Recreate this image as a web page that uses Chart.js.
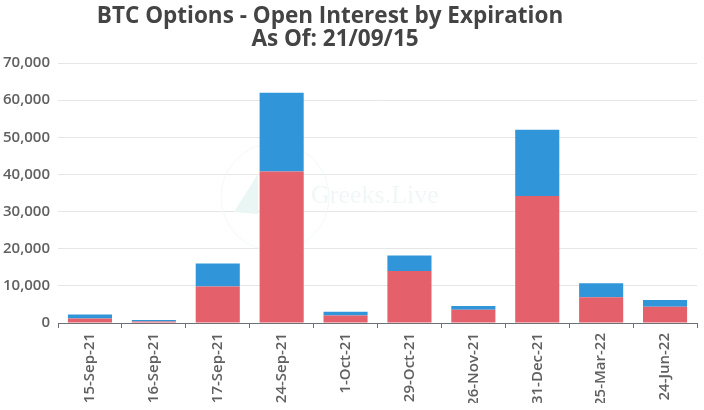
<!DOCTYPE html>
<html>
<head>
<meta charset="utf-8">
<style>
html,body{margin:0;padding:0;background:#fff;overflow:hidden}
#box{width:704px;height:403px}
</style>
<script src="https://cdn.jsdelivr.net/npm/chart.js@4"></script>
</head>
<body>
<div id="box"><canvas id="oiChart"></canvas></div>
<script>
const expiries = ['15-Sep-21','16-Sep-21','17-Sep-21','24-Sep-21','1-Oct-21','29-Oct-21','26-Nov-21','31-Dec-21','25-Mar-22','24-Jun-22'];
const puts = [1200,400,9800,40800,2000,14000,3600,34200,6900,4400];
const calls = [1100,400,6200,21200,1000,4200,1000,17800,3800,1800];
const titleLines = ['BTC Options - Open Interest by Expiration','As Of: 21/09/15'];
const watermark = 'Greeks.Live';

const titlePlugin = {
  id:'titleText',
  afterDraw(chart){
    const c = chart.ctx;
    c.save();
    c.fillStyle = '#444';
    c.font = '700 22.5px "Open Sans"';
    c.textAlign = 'center';
    c.textBaseline = 'middle';
    c.fillText(titleLines[0], 330, 17);
    c.fillText(titleLines[1], 335, 40);
    c.restore();
  }
};

// faint logo behind the bars
const markPlugin = {
  id:'watermark',
  beforeDatasetsDraw(chart){
    const c = chart.ctx;
    c.save();
    c.strokeStyle = '#f2f9f8';
    c.beginPath();
    c.arc(275, 197, 54, 0, Math.PI*2);
    c.stroke();
    c.fillStyle = '#eaf6f4';
    c.beginPath();
    c.moveTo(258,174); c.lineTo(234,212); c.lineTo(258,214);
    c.fill();
    c.fillStyle = '#f1f7f6';
    c.font = '26px "Liberation Serif"';
    c.textBaseline = 'middle';
    c.fillText(watermark, 311, 196);
    c.restore();
  }
};

new Chart(document.getElementById('oiChart'), {
  type:'bar',
  data:{ labels:expiries, datasets:[
    { label:'Puts', data:puts, backgroundColor:'#e4606b', stack:'oi' },
    { label:'Calls', data:calls, backgroundColor:'#3096d9', stack:'oi' }
  ]},
  options:{
    responsive:true, maintainAspectRatio:false, animation:false,
    layout:{ padding:{ top:63, right:7, left:0, bottom:0 } },
    barPercentage:0.69, categoryPercentage:1,
    plugins:{ legend:{display:false}, tooltip:{enabled:false} },
    scales:{
      x:{
        stacked:true,
        afterFit(s){ s.height = 80; },
        grid:{ drawOnChartArea:false, drawTicks:true, offset:true, tickLength:5, color:'#6e7079' },
        border:{ color:'#6e7079' },
        ticks:{ minRotation:90, maxRotation:90, autoSkip:false, padding:5, color:'#606060',
                font:{ family:'"Open Sans"', size:15, weight:'600' } }
      },
      y:{
        stacked:true, min:0, max:70000,
        afterFit(s){ s.width = 58; },
        grid:{ color:'#e6e6e6', drawTicks:false },
        border:{ display:false },
        ticks:{ stepSize:10000, padding:8, color:'#606060',
                font:{ family:'"Open Sans"', size:15, weight:'600' },
                callback:v=>v.toLocaleString('en-US') }
      }
    }
  },
  plugins:[markPlugin, titlePlugin]
});
</script>
</body>
</html>
